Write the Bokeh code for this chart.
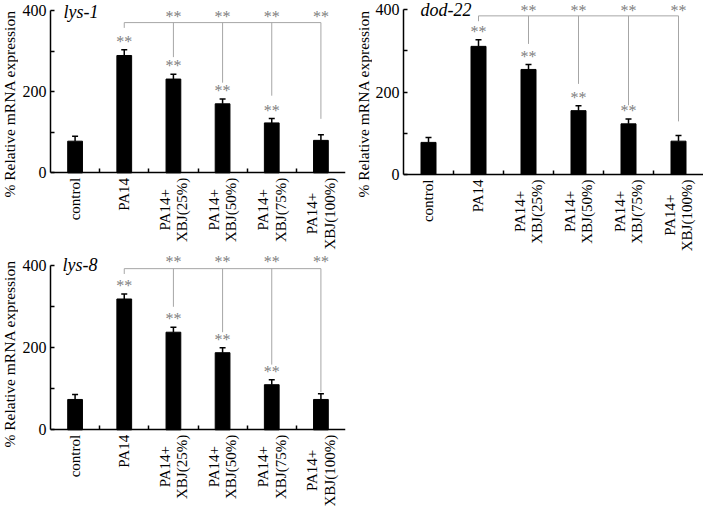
import numpy as np
from bokeh.plotting import figure
from bokeh.layouts import column, row
from bokeh.models import FixedTicker, Label, Whisker, ColumnDataSource, TeeHead, Range1d
from bokeh.embed import file_html
from bokeh.resources import INLINE
from bokeh.core.properties import value

NB = "\u00a0"
categories = ["control", "PA14", "PA14+" + NB * 3 + "\nXBJ(25%)",
              "PA14+" + NB * 3 + "\nXBJ(50%)", "PA14+" + NB * 3 + "\nXBJ(75%)",
              "PA14+" + NB * 4 + "\nXBJ(100%)"]
y_title = "% Relative mRNA expression"

# mean % relative mRNA expression and SEM, one list per gene
lys1_mean = [78, 289, 231, 170, 123, 80]
lys1_err = [12, 14, 12, 12, 11, 14]
dod22_mean = [78, 311, 255, 155, 123, 81]
dod22_err = [12, 16, 12, 12, 12, 14]
lys8_mean = [74, 319, 238, 188, 110, 74]
lys8_err = [12, 12, 12, 12, 12, 14]

# bars marked ** versus control
star_bars = [1, 2, 3, 4]
# bracket comparisons versus PA14
bracket_from = 1
bracket_to = [2, 3, 4, 5]
lys1_bracket = 370
lys1_left = 357
lys1_drop = [285, 222, 190, 133]
lys1_star_top = 387
dod22_bracket = 385
dod22_left = 372
dod22_drop = [317, 220, 168, 129]
dod22_star_top = 400
lys8_bracket = 393
lys8_left = 380
lys8_drop = [300, 238, 159, 92]
lys8_star_top = 414

SERIF = "Liberation Serif"
GREY_LINE = "#a6a6a6"
GREY_STAR = "#808080"
STAR_GAP = 23
TXT_SHIFT = 1


def y_title_fig(width, height, anchor_x, start_y):
    t = figure(width=width, height=height, output_backend="svg",
               toolbar_location=None, x_range=Range1d(0, width),
               y_range=Range1d(0, height), min_border=0)
    t.axis.visible = False
    t.grid.visible = False
    t.outline_line_color = None
    t.text(x=[anchor_x], y=[start_y], text=[y_title], angle=np.pi / 2,
           text_font=value(SERIF), text_font_size="15.5px", text_color="black",
           text_align="left", text_baseline="middle")
    return t


def panel(gene, mean, err, bracket_y, left_end, drops, star_top,
          width, height, y_start, y_end, border_left, border_right,
          title_x, title_y):
    p = figure(width=width, height=height, output_backend="svg",
               toolbar_location=None, x_range=Range1d(-0.5, 5.5),
               y_range=Range1d(y_start, y_end), min_border_left=border_left,
               min_border_right=border_right, min_border_top=0,
               min_border_bottom=0)
    p.outline_line_color = None
    p.xgrid.visible = False
    p.ygrid.visible = False
    xs = list(range(len(categories)))
    p.vbar(x=xs, top=mean, width=0.3, bottom=0, fill_color="black",
           line_color="black")
    src = ColumnDataSource(dict(x=xs, lower=mean,
                                upper=[m + e for m, e in zip(mean, err)]))
    w = Whisker(source=src, base="x", upper="upper", lower="lower",
                upper_head=TeeHead(size=6, line_width=1.5, line_color="black"),
                lower_head=None, line_width=1.5, line_color="black")
    p.add_layout(w)
    # bracket
    p.segment(x0=[bracket_from], x1=[max(bracket_to)], y0=[bracket_y],
              y1=[bracket_y], line_color=GREY_LINE, line_width=1)
    p.segment(x0=[bracket_from], x1=[bracket_from], y0=[bracket_y],
              y1=[left_end], line_color=GREY_LINE, line_width=1)
    p.segment(x0=bracket_to, x1=bracket_to, y0=[bracket_y] * len(bracket_to),
              y1=drops, line_color=GREY_LINE, line_width=1)
    p.text(x=bracket_to, y=[star_top] * len(bracket_to),
           text=["**"] * len(bracket_to), text_font=value(SERIF),
           text_font_size="16px", text_color=GREY_STAR, text_align="center",
           text_baseline="middle", y_offset=TXT_SHIFT)
    p.text(x=star_bars, y=[mean[i] + err[i] + STAR_GAP for i in star_bars],
           text=["**"] * len(star_bars), text_font=value(SERIF),
           text_font_size="16px", text_color=GREY_STAR, text_align="center",
           text_baseline="middle", y_offset=TXT_SHIFT)
    p.add_layout(Label(x=title_x, y=title_y, text=gene, text_font=SERIF,
                       text_font_style="italic", text_font_size="18px",
                       text_color="black", text_baseline="middle"))
    # axes
    ya = p.yaxis[0]
    ya.ticker = FixedTicker(ticks=[0, 200, 400], minor_ticks=[100, 300])
    ya.bounds = (0, 400)
    ya.major_tick_in = 4
    ya.major_tick_out = 0
    ya.minor_tick_in = 4
    ya.minor_tick_out = 0
    ya.major_label_standoff = 4
    ya.major_label_text_font = SERIF
    ya.major_label_text_font_size = "16px"
    ya.major_label_text_color = "black"
    ya.axis_line_width = 1.5
    ya.major_tick_line_width = 1.5
    ya.minor_tick_line_width = 1.5
    xa = p.xaxis[0]
    xa.fixed_location = 0
    xa.ticker = FixedTicker(ticks=xs, minor_ticks=[i + 0.5 for i in xs[:-1]])
    xa.major_label_overrides = {i: c for i, c in enumerate(categories)}
    xa.major_label_orientation = np.pi / 2
    xa.major_tick_in = 0
    xa.major_tick_out = 0
    xa.minor_tick_in = 4
    xa.minor_tick_out = 0
    xa.minor_tick_line_width = 1.5
    xa.axis_line_width = 1.5
    xa.major_label_standoff = 5
    xa.major_label_text_font = SERIF
    xa.major_label_text_font_size = "15px"
    xa.major_label_text_line_height = 1.1
    xa.major_label_text_color = "black"
    return p


t1 = y_title_fig(18, 254, 9, 57)
p1 = panel("lys-1", lys1_mean, lys1_err, lys1_bracket, lys1_left, lys1_drop,
           lys1_star_top, 336, 254, -201, 424.4, 32, 9, -0.236, 395)
t2 = y_title_fig(18, 254, 9.4, 57)
p2 = panel("dod-22", dod22_mean, dod22_err, dod22_bracket, dod22_left,
           dod22_drop, dod22_star_top, 331, 254, -194, 422.3, 31, 0, -0.16, 400)
t3 = y_title_fig(18, 252, 9, 59)
p3 = panel("lys-8", lys8_mean, lys8_err, lys8_bracket, lys8_left, lys8_drop,
           lys8_star_top, 336, 252, -187, 427.5, 32, 9, -0.256, 403)

layout = column(row(t1, p1, t2, p2), row(t3, p3))
open("out.html", "w").write(file_html(layout, INLINE))
